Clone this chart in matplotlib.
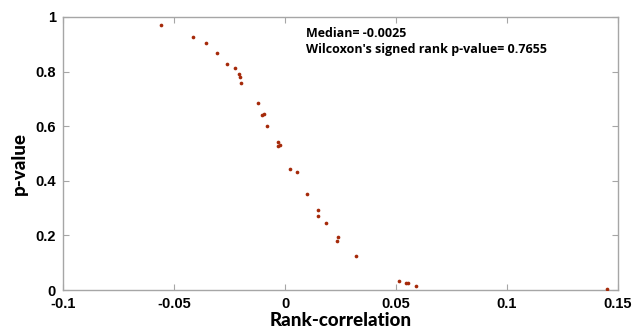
import matplotlib
matplotlib.use('Agg')
import matplotlib.pyplot as plt

# rank correlation vs p-value
rank_corr = [-0.0559, -0.0414, -0.0354, -0.0306, -0.0260, -0.0227, -0.0207, -0.0204,
             -0.0198, -0.0120, -0.0105, -0.0093, -0.0080, -0.0030, -0.0033, -0.0023,
             0.0023, 0.0054, 0.0099, 0.0147, 0.0147, 0.0183, 0.0237, 0.0235,
             0.0318, 0.0515, 0.0544, 0.0556, 0.0592, 0.1449]
p_value = [0.972, 0.928, 0.906, 0.867, 0.829, 0.813, 0.791, 0.779,
           0.757, 0.686, 0.640, 0.646, 0.601, 0.543, 0.527, 0.530,
           0.444, 0.431, 0.350, 0.294, 0.270, 0.247, 0.195, 0.180,
           0.125, 0.033, 0.027, 0.027, 0.015, 0.003]

x_ticks = [-0.1, -0.05, 0, 0.05, 0.1, 0.15]
x_ticklabels = ['-0.1', '-0.05', '0', '0.05', '0.1', '0.15']
y_ticks = [0, 0.2, 0.4, 0.6, 0.8, 1]
y_ticklabels = ['0', '0.2', '0.4', '0.6', '0.8', '1']

median_text = "Median= -0.0025"
wilcoxon_text = "Wilcoxon's signed rank p-value= 0.7655"

fig = plt.figure(figsize=(6.34, 3.33), dpi=100)
ax = fig.add_axes([63/634, 43/333, 555/634, 273/333])

ax.scatter(rank_corr, p_value, s=7, color='#a52a0a', linewidths=0, zorder=3)

ax.set_xlim(-0.1, 0.15)
ax.set_ylim(0, 1)
ax.set_xticks(x_ticks)
ax.set_xticklabels(x_ticklabels)
ax.set_yticks(y_ticks)
ax.set_yticklabels(y_ticklabels)

gray = '#a6a6a6'
for s in ax.spines.values():
    s.set_color(gray)
    s.set_linewidth(1.0)
ax.tick_params(direction='in', length=4, width=0.8, color=gray,
               top=True, right=True, labelsize=10.5, pad=5)
for lab in ax.get_xticklabels() + ax.get_yticklabels():
    lab.set_fontfamily('Liberation Sans')
    lab.set_fontweight('bold')

ax.set_xlabel('Rank-correlation', fontsize=13.5, fontweight='black',
              family='Lato', labelpad=1)
ax.set_ylabel('p-value', fontsize=13.5, fontweight='black',
              family='Lato')
ax.yaxis.set_label_coords(-0.063, 0.465)

ax.text(0.0095, 0.927, median_text, fontsize=9, fontweight='bold',
        family='Open Sans', va='baseline')
ax.text(0.0095, 0.868, wilcoxon_text, fontsize=9, fontweight='bold',
        family='Open Sans', va='baseline')

fig.savefig('out.png', dpi=100)
